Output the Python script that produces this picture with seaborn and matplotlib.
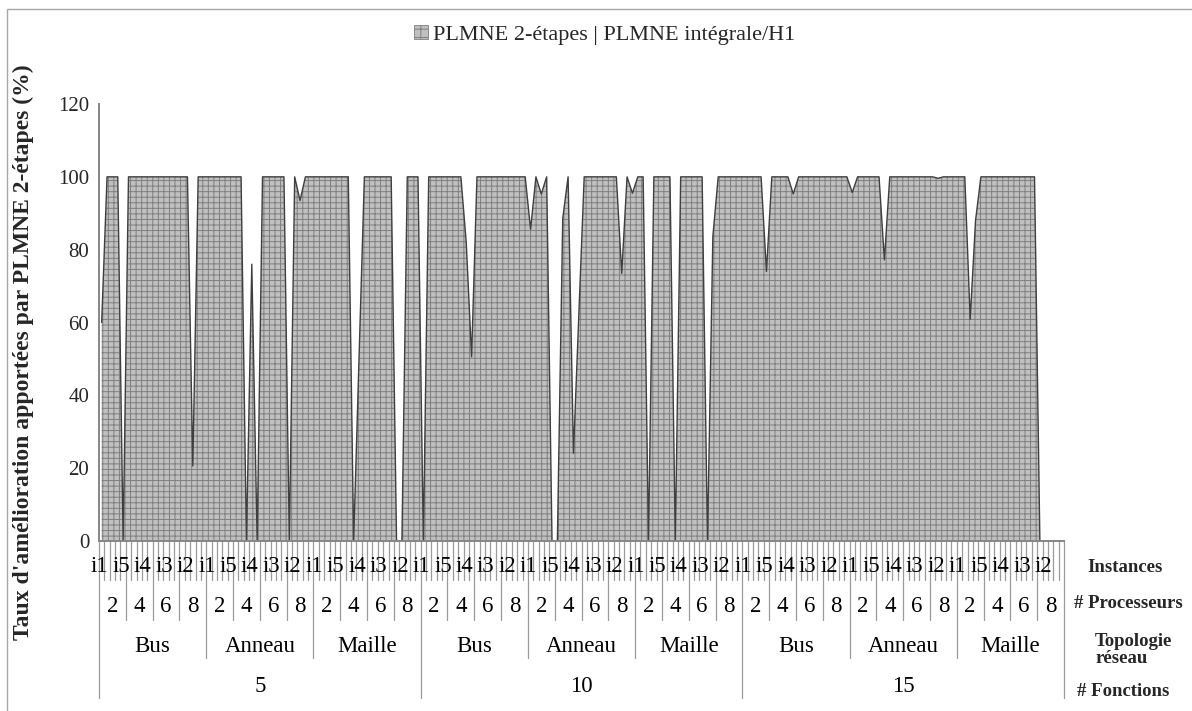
import numpy as np
import pandas as pd
import matplotlib
matplotlib.use("Agg")
import matplotlib.pyplot as plt
import matplotlib.transforms as mtransforms
from matplotlib.patches import Patch, Rectangle
from matplotlib.lines import Line2D
import seaborn as sns

# ---- data -------------------------------------------------------------
fonctions = ["5", "10", "15"]
topologies = ["Bus", "Anneau", "Maille"]
processeurs = ["2", "4", "6", "8"]
instances = ["i1", "i2", "i3", "i4", "i5"]

# improvement rate (%) per instance, grouped by number of functions
# (order: topology -> processors -> instance)
taux_f5 = [
    60, 100, 100, 100, 0,     100, 100, 100, 100, 100,
    100, 100, 100, 100, 100,  100, 100, 20.6, 100, 100,
    100, 100, 100, 100, 100,  100, 100, 0, 76, 0,
    100, 100, 100, 100, 100,  0, 100, 93.5, 100, 100,
    100, 100, 100, 100, 100,  100, 100, 0, 50, 100,
    100, 100, 100, 100, 100,  0, 0, 100, 100, 100,
]
taux_f10 = [
    0, 100, 100, 100, 100,    100, 100, 100, 82, 50.6,
    100, 100, 100, 100, 100,  100, 100, 100, 100, 100,
    85.6, 100, 95.3, 100, 0,  0, 88.6, 100, 24.1, 62,
    100, 100, 100, 100, 100,  100, 100, 73.5, 100, 95.5,
    100, 100, 0, 100, 100,    100, 100, 0, 100, 100,
    100, 100, 100, 0, 83.6,   100, 100, 100, 100, 100,
]
taux_f15 = [
    100, 100, 100, 100, 74,   100, 100, 100, 100, 95.3,
    100, 100, 100, 100, 100,  100, 100, 100, 100, 100,
    95.7, 100, 100, 100, 100, 100, 77.2, 100, 100, 100,
    100, 100, 100, 100, 100,  100, 99.6, 100, 100, 100,
    100, 100, 60.9, 88, 100,  100, 100, 100, 100, 100,
    100, 100, 100, 100, 100,  0, 0, 0, 0, 0,
]

legend_label = "PLMNE 2-étapes | PLMNE intégrale/H1"
ylabel = "Taux d'amélioration apportées par PLMNE 2-étapes (%)"
row_titles = ["Instances", "# Processeurs", "Topologie\nréseau", "# Fonctions"]

# ---- long table -------------------------------------------------------
rows = []
for f, vals in zip(fonctions, [taux_f5, taux_f10, taux_f15]):
    k = 0
    for t in topologies:
        for p in processeurs:
            for inst in instances:
                rows.append({"fonctions": f, "topologie": t, "processeurs": p,
                             "instance": inst, "taux": vals[k]})
                k += 1
df = pd.DataFrame(rows)
df["pos"] = np.arange(len(df))
n = len(df)

# ---- style ------------------------------------------------------------
sns.set_style("white")
serif = ["Liberation Serif", "DejaVu Serif"]
plt.rcParams["font.family"] = serif
plt.rcParams["hatch.color"] = "#7f7f7f"
plt.rcParams["hatch.linewidth"] = 0.7

W, H = 1192, 711
fig = plt.figure(figsize=(W / 100, H / 100), dpi=100)
ax = fig.add_axes([99 / W, 1 - 541 / H, 965 / W, 437 / H])

# area with a small-grid pattern
ax.fill_between(df["pos"], df["taux"], 0, facecolor="#c0c0c0",
                edgecolor="#7f7f7f", hatch="+++", linewidth=0, zorder=1)
sns.lineplot(data=df, x="pos", y="taux", color="#3f3f3f", linewidth=1.0,
             ax=ax, zorder=3)

ax.set_xlim(-0.5, n - 0.5)
ax.set_ylim(0, 120)
ax.set_yticks(np.arange(0, 121, 20))
ax.set_xticks([])
ax.set_xlabel("")
ax.set_ylabel("")
for s in ["top", "right"]:
    ax.spines[s].set_visible(False)
for s in ["left", "bottom"]:
    ax.spines[s].set_color("#868686")
    ax.spines[s].set_linewidth(1.4)
    ax.spines[s].set_zorder(5)
ax.tick_params(axis="y", direction="out", length=5, width=1.0,
               color="#868686", labelsize=15, pad=2)
for lab in ax.get_yticklabels():
    lab.set_fontfamily(serif)

# ---- multi-level category axis ---------------------------------------
trans = mtransforms.blended_transform_factory(ax.transData, ax.transAxes)
ax_h = 437.0
def ay(py):
    return (541.0 - py) / ax_h

lev_inst, lev_proc, lev_topo, lev_fonc = ay(580), ay(620), ay(658), ay(698)
line_kw = dict(color="#9a9a9a", linewidth=0.9, transform=trans, clip_on=False)
for b in np.arange(-0.5, n, 1.0):
    b_int = int(b + 0.5)
    if b_int % 60 == 0:
        bottom = lev_fonc
    elif b_int % 20 == 0:
        bottom = lev_topo
    elif b_int % 5 == 0:
        bottom = lev_proc
    else:
        bottom = lev_inst
    ax.add_line(Line2D([b, b], [0, bottom], **line_kw))

txt_kw = dict(transform=trans, ha="center", va="center", fontsize=16.5,
              clip_on=False, color="black")
# instances: every 4th category is labelled
for k in range(0, n, 4):
    ax.text(k - 0.35, ay(567), df["instance"].iloc[k], **txt_kw)
# processors
for g in range(n // 5):
    ax.text(5 * g + 2, ay(607), df["processeurs"].iloc[5 * g], **txt_kw)
# topologies
for g in range(n // 20):
    ax.text(20 * g + 9.5, ay(646), df["topologie"].iloc[20 * g], **txt_kw)
# number of functions
for g in range(n // 60):
    ax.text(60 * g + 29.5, ay(686), df["fonctions"].iloc[60 * g], **txt_kw)

# row titles
title_kw = dict(fontsize=13.5, fontweight="bold", va="center")
fig.text(1125 / W, 1 - 568 / H, row_titles[0], ha="center", **title_kw)
fig.text(1128 / W, 1 - 604 / H, row_titles[1], ha="center", **title_kw)
fig.text(1095 / W, 1 - 650 / H, row_titles[2], ha="left",
         multialignment="left", linespacing=0.95, **title_kw)
fig.text(1123 / W, 1 - 692 / H, row_titles[3], ha="center", **title_kw)

# y axis title
fig.text(23 / W, 1 - 352 / H, ylabel, rotation=90, ha="center", va="center",
         fontsize=17, fontweight="bold")

# legend
handle = Patch(facecolor="#c0c0c0", edgecolor="#7f7f7f", hatch="++",
               linewidth=0.6, label=legend_label)
fig.legend(handles=[handle], loc="center", bbox_to_anchor=(605 / W, 1 - 35 / H),
           frameon=False, fontsize=16, handlelength=0.6, handleheight=0.6,
           handletextpad=0.25, borderpad=0)

# chart-area border
fig.add_artist(Rectangle((7 / W, -0.1), 1.2, 1.1 - 9 / H, transform=fig.transFigure,
                         fill=False, edgecolor="#a6a6a6", linewidth=1.0))

fig.savefig("out.png", dpi=100)
